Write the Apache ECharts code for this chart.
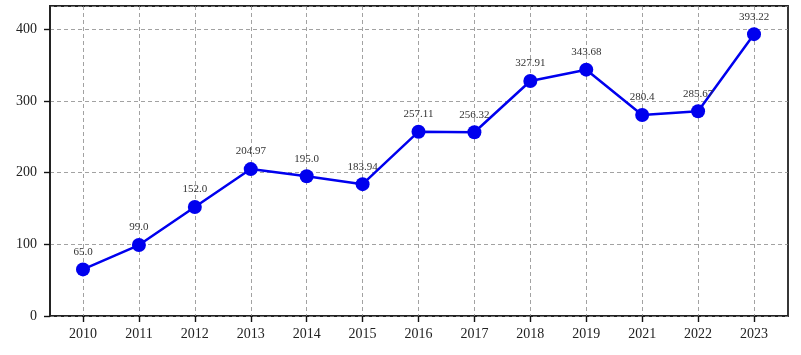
<!DOCTYPE html>
<html>
<head>
<meta charset="utf-8">
<script src="https://cdn.jsdelivr.net/npm/echarts@6/dist/echarts.min.js"></script>
<style>html,body{margin:0;padding:0;background:#fff}#c{width:801px;height:355px}</style>
</head>
<body>
<div id="c"></div>
<script>
const categories = ['2010','2011','2012','2013','2014','2015','2016','2017','2018','2019','2021','2022','2023'];
const values = [65.0, 99.0, 152.0, 204.97, 195.0, 183.94, 257.11, 256.32, 327.91, 343.68, 280.4, 285.67, 393.22];
const labels = ['65.0','99.0','152.0','204.97','195.0','183.94','257.11','256.32','327.91','343.68','280.4','285.67','393.22'];
const yMin = 0, yMax = 432.5, yStep = 100;

const font = 'Liberation Serif';
const chart = echarts.init(document.getElementById('c'), null, {renderer: 'canvas'});
const dashed = {show: true, lineStyle: {color: '#8a8a8a', type: [4, 3], width: 0.8}};
chart.setOption({
  animation: false,
  backgroundColor: '#fff',
  grid: [
    {left: 50, right: 13, top: 6, bottom: 39, show: true, borderColor: '#222', borderWidth: 1.8, backgroundColor: 'transparent'},
    {left: 83, right: 47, top: 6, bottom: 39}
  ],
  xAxis: [
    {gridIndex: 0, type: 'value', min: 0, max: 1, show: false},
    {gridIndex: 1, type: 'category', data: categories, boundaryGap: false,
     axisLine: {show: false},
     axisTick: {show: true, inside: false, length: 6, alignWithLabel: true, lineStyle: {color: '#111', width: 1.4}},
     axisLabel: {color: '#222', fontFamily: font, fontSize: 14, margin: 11, interval: 0},
     splitLine: dashed}
  ],
  yAxis: [
    {gridIndex: 0, type: 'value', min: yMin, max: yMax, interval: yStep,
     axisLine: {show: true, lineStyle: {color: '#222', width: 1.8}},
     axisTick: {show: true, inside: false, length: 6, lineStyle: {color: '#111', width: 1.4}},
     axisLabel: {color: '#222', fontFamily: font, fontSize: 14, margin: 13, showMaxLabel: false},
     splitLine: dashed},
    {gridIndex: 1, type: 'value', min: yMin, max: yMax, show: false, splitLine: {show: false}}
  ],
  series: [{
    type: 'line',
    xAxisIndex: 1, yAxisIndex: 1,
    data: values,
    symbol: 'circle', symbolSize: 14,
    lineStyle: {color: '#0000ee', width: 2.5},
    itemStyle: {color: '#0000ee'},
    label: {show: true, position: 'top', distance: 5, color: '#333', fontFamily: font, fontSize: 11,
      formatter: p => labels[p.dataIndex]}
  }]
});
</script>
</body>
</html>
